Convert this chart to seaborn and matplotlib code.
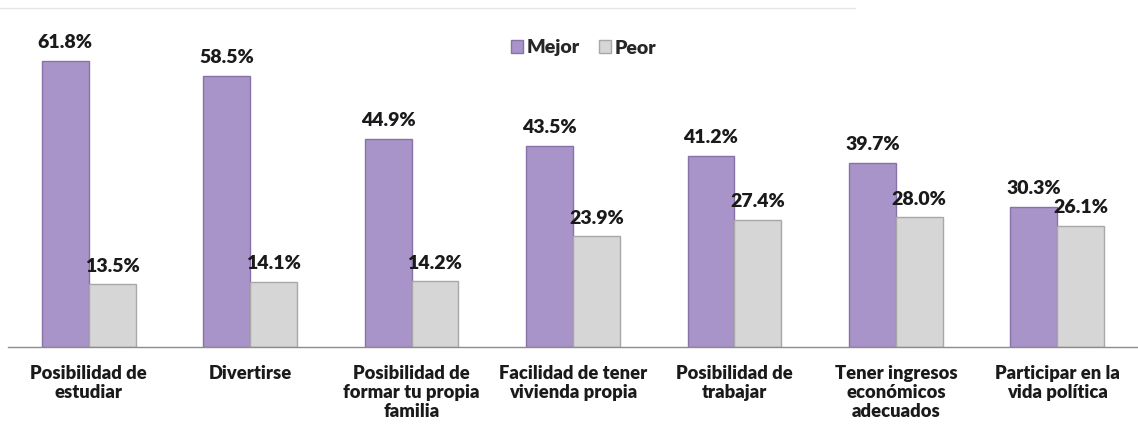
import pandas as pd
import numpy as np
import matplotlib
matplotlib.use("Agg")
import matplotlib.pyplot as plt
import seaborn as sns
from matplotlib.lines import Line2D
from matplotlib.patches import Patch

# Data
categories = [
    "Posibilidad de\nestudiar",
    "Divertirse",
    "Posibilidad de\nformar tu propia\nfamilia",
    "Facilidad de tener\nvivienda propia",
    "Posibilidad de\ntrabajar",
    "Tener ingresos\neconómicos\nadecuados",
    "Participar en la\nvida política",
]
mejor = [61.8, 58.5, 44.9, 43.5, 41.2, 39.7, 30.3]
peor = [13.5, 14.1, 14.2, 23.9, 27.4, 28.0, 26.1]
series = ["Mejor", "Peor"]

df = pd.DataFrame({
    "categoria": categories * 2,
    "serie": ["Mejor"] * len(categories) + ["Peor"] * len(categories),
    "valor": mejor + peor,
})

sns.set_theme(style="white")
plt.rcParams['font.family'] = ['Lato', 'DejaVu Sans']

colors = {"Mejor": "#A894C8", "Peor": "#D6D6D6"}
edges = {"Mejor": "#8672A8", "Peor": "#A8A8A8"}

fig = plt.figure(figsize=(11.38, 4.29), dpi=100)
ax = fig.add_axes([8 / 1138, 82 / 429, 1130 / 1138, 339 / 429])

sns.barplot(data=df, x="categoria", y="valor", hue="serie", order=categories,
            hue_order=series, palette=colors, width=0.58, ax=ax,
            legend=False, saturation=1)

for container, s in zip(ax.containers, series):
    for bar in container:
        bar.set_edgecolor(edges[s])
        bar.set_linewidth(1.0)
    ax.bar_label(container, labels=[f"{v:.1f}%" for v in container.datavalues],
                 padding=7, fontsize=14, fontweight="heavy", color="#1a1a1a")

ax.set_ylim(0, 73.2)
ax.set_xlim(-0.5, len(categories) - 0.5)
ax.set_xlabel("")
ax.set_ylabel("")
ax.set_yticks([])
ax.tick_params(axis="x", length=0, pad=13)
for lbl in ax.get_xticklabels():
    lbl.set_fontsize(13.2)
    lbl.set_fontweight("heavy")
    lbl.set_color("#1a1a1a")
    lbl.set_linespacing(1.15)

for side in ["top", "right", "left"]:
    ax.spines[side].set_visible(False)
ax.spines["bottom"].set_color("#8c8c8c")
ax.spines["bottom"].set_linewidth(1.0)

# faint top border line
fig.add_artist(Line2D([0, 855 / 1138], [1 - 8 / 429, 1 - 8 / 429],
                      color="#e6e6e6", linewidth=1.0))

handles = [Patch(facecolor=colors[s], edgecolor=edges[s]) for s in series]
leg = fig.legend(handles, series, loc="center", bbox_to_anchor=(584 / 1138, 1 - 48 / 429),
                 ncol=2, frameon=False, handlelength=0.6, handleheight=0.6,
                 handletextpad=0.2, columnspacing=1.0,
                 prop={"size": 14, "weight": "heavy"})

fig.savefig("out.png", dpi=100)
